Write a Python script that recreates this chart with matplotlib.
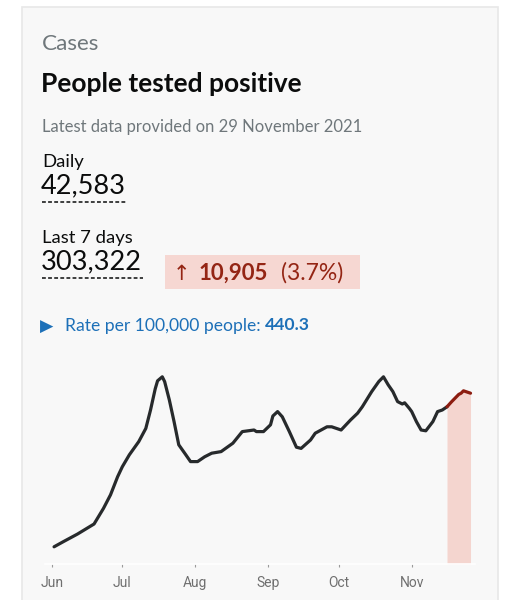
import matplotlib
matplotlib.use("Agg")
import matplotlib.pyplot as plt
import matplotlib.dates as mdates
from matplotlib.patches import Rectangle
from matplotlib.lines import Line2D
import numpy as np
import pandas as pd

# ---------------- data ----------------
dates = ["2021-06-02", "2021-06-06", "2021-06-12", "2021-06-19", "2021-06-23", "2021-06-26",
         "2021-06-29", "2021-07-01", "2021-07-04", "2021-07-08", "2021-07-11", "2021-07-13",
         "2021-07-15", "2021-07-16", "2021-07-18", "2021-07-19", "2021-07-21", "2021-07-23",
         "2021-07-25", "2021-07-28", "2021-07-30", "2021-08-02", "2021-08-05", "2021-08-08",
         "2021-08-12", "2021-08-17", "2021-08-21", "2021-08-26", "2021-08-27", "2021-08-30",
         "2021-09-02", "2021-09-03", "2021-09-05", "2021-09-07", "2021-09-10", "2021-09-13",
         "2021-09-15", "2021-09-19", "2021-09-21", "2021-09-26", "2021-09-28", "2021-10-02",
         "2021-10-06", "2021-10-09", "2021-10-11", "2021-10-15", "2021-10-18", "2021-10-20",
         "2021-10-22", "2021-10-24", "2021-10-26", "2021-10-28", "2021-10-29", "2021-10-31",
         "2021-11-01", "2021-11-03", "2021-11-05", "2021-11-07", "2021-11-10", "2021-11-12",
         "2021-11-14", "2021-11-16", "2021-11-18", "2021-11-21", "2021-11-22", "2021-11-23",
         "2021-11-26"]
cases = [4300, 5600, 7500, 10000, 13900, 17300,
         21800, 24300, 27300, 30600, 33900, 38500,
         43800, 45800, 46800, 45600, 41000, 35600,
         29800, 27300, 25600, 25600, 26800, 27700,
         28100, 30200, 33100, 33500, 33100, 33100,
         34800, 37000, 38100, 36800, 33100, 29200,
         28900, 31000, 32700, 34300, 34300, 33500,
         36000, 37700, 39300, 43100, 45600, 46800,
         44800, 43100, 40600, 40000, 40300, 38900,
         38100, 35600, 33500, 33300, 35600, 38100,
         38500, 39300, 40600, 42400, 42700, 43300,
         42700]
highlight_start = "2021-11-16"
tick_months = ["2021-06-01", "2021-07-01", "2021-08-01", "2021-09-01", "2021-10-01", "2021-11-01"]
tick_labels = ["Jun", "Jul", "Aug", "Sep", "Oct", "Nov"]

metric_group = "Cases"
title = "People tested positive"
subtitle = "Latest data provided on 29 November 2021"
daily_label = "Daily"
daily_value = "42,583"
week_label = "Last 7 days"
week_value = "303,322"
change_value = "10,905"
change_pct = "(3.7%)"
rate_label = "Rate per 100,000 people: "
rate_value = "440.3"

# ---------------- layout ----------------
W, H = 520, 600
fig = plt.figure(figsize=(W / 100, H / 100), dpi=100)
fig.patch.set_facecolor("white")

def fx(x):
    return x / W

def fy(y):
    return 1 - y / H

HEAD_FONT = ["Lato", "DejaVu Sans"]
GREY = "#6f777b"
BLACK = "#0b0c0c"
BLUE = "#1d70b8"
RED = "#942514"

# card
fig.patches.append(Rectangle((fx(22), fy(620)), fx(476), 613 / H, transform=fig.transFigure,
                             facecolor="#f8f8f8", edgecolor="#e8e8e8", linewidth=1.2, zorder=-5))

fig.text(fx(42), fy(50), metric_group, fontsize=16.2, color=GREY, family=HEAD_FONT, va="baseline")
fig.text(fx(41), fy(91.5), title, fontsize=19, color=BLACK, weight="bold", family=HEAD_FONT, va="baseline")
fig.text(fx(42), fy(131.5), subtitle, fontsize=12, color=GREY, family=HEAD_FONT, va="baseline")

fig.text(fx(42), fy(166.5), daily_label, fontsize=13.3, color=BLACK, family=HEAD_FONT, va="baseline")
fig.text(fx(41), fy(193.5), daily_value, fontsize=19.5, color=BLACK, family=HEAD_FONT, va="baseline")
fig.lines.append(Line2D([fx(42), fx(127)], [fy(201.5), fy(201.5)], transform=fig.transFigure,
                        color=BLACK, linewidth=1.1, linestyle=(0, (2.5, 1.5))))

fig.text(fx(42), fy(242.5), week_label, fontsize=13.3, color=BLACK, family=HEAD_FONT, va="baseline")
fig.text(fx(41), fy(269.5), week_value, fontsize=19.5, color=BLACK, family=HEAD_FONT, va="baseline")
fig.lines.append(Line2D([fx(42), fx(143)], [fy(278.5), fy(278.5)], transform=fig.transFigure,
                        color=BLACK, linewidth=1.1, linestyle=(0, (2.5, 1.5))))

# change box
fig.patches.append(Rectangle((fx(164.5), fy(289.5)), fx(195.5), 34.5 / H, transform=fig.transFigure,
                             facecolor="#f6d7d2", edgecolor="none", zorder=1))
fig.text(fx(173), fy(280), "\u2191", fontsize=15, color=RED, family=["DejaVu Sans"], va="baseline")
fig.text(fx(199), fy(280), change_value, fontsize=16, color=RED, weight="bold", family=HEAD_FONT, va="baseline")
fig.text(fx(281), fy(280), change_pct, fontsize=16.5, color=RED, family=HEAD_FONT, va="baseline")

# rate line
fig.text(fx(40), fy(332), "\u25B6", fontsize=12.5, color=BLUE, family=["DejaVu Sans"], va="baseline")
t = fig.text(fx(65), fy(330.5), rate_label, fontsize=12.6, color=BLUE, family=HEAD_FONT, va="baseline")
fig.canvas.draw()
bb = t.get_window_extent()
fig.text(bb.x1 / W, fy(330.5), rate_value, fontsize=12.6, color=BLUE, weight="bold", family=HEAD_FONT, va="baseline")

# ---------------- chart ----------------
d = pd.to_datetime(pd.Series(dates))
v = np.array(cases, dtype=float)
hs = pd.Timestamp(highlight_start)
x_left_px, x_right_px, base_px, top_px = 45, 475, 564, 364
ax = fig.add_axes([fx(x_left_px), fy(base_px), (x_right_px - x_left_px) / W, (base_px - top_px) / H])
ax.set_zorder(5)
ax.set_facecolor("none")
jun1 = mdates.date2num(pd.Timestamp("2021-06-01"))
ppd = 360 / 153.0
ax.set_xlim(jun1 - (51.7 - x_left_px) / ppd, jun1 + (x_right_px - 51.7) / ppd)
ax.set_ylim(0, 50000)

dn = mdates.date2num(d)
main = (d <= hs).values
red = (d >= hs).values
ax.fill_between(dn[red], 0, v[red], color="#f4cfc8", alpha=0.85, linewidth=0, zorder=1)
ax.plot(dn[main], v[main], color="#272a2c", linewidth=2.3, solid_joinstyle="round",
        solid_capstyle="round", zorder=3)
ax.plot(dn[red], v[red], color="#8c1c10", linewidth=2.3, solid_joinstyle="round",
        solid_capstyle="round", zorder=3)

for s in ["top", "right", "left"]:
    ax.spines[s].set_visible(False)
ax.spines["bottom"].set_color("#ffffff")
ax.spines["bottom"].set_linewidth(1.2)
ax.set_yticks([])
ax.set_xticks(mdates.date2num(pd.to_datetime(pd.Series(tick_months))))
ax.set_xticklabels(tick_labels)
ax.tick_params(axis="x", length=2.5, width=0.8, color="#9a9a9a", pad=6, labelsize=10, labelcolor="#6f6f6f")
for lab in ax.get_xticklabels():
    lab.set_family(["Roboto", "DejaVu Sans"])

fig.savefig("out.png", dpi=100, facecolor="white")
